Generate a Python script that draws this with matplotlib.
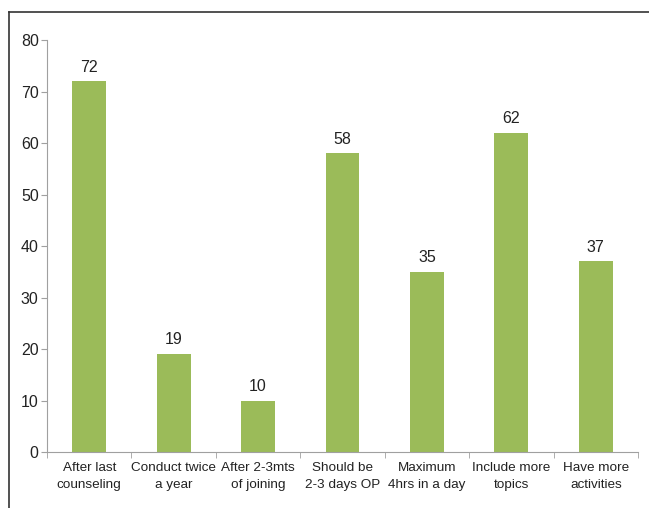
import matplotlib.pyplot as plt
from matplotlib.lines import Line2D

categories = ['After last\ncounseling', 'Conduct twice\na year', 'After 2-3mts\nof joining',
              'Should be\n2-3 days OP', 'Maximum\n4hrs in a day', 'Include more\ntopics',
              'Have more\nactivities']
values = [72, 19, 10, 58, 35, 62, 37]

plt.rcParams['font.family'] = ['Liberation Sans', 'DejaVu Sans']

fig = plt.figure(figsize=(6.49, 5.08), dpi=100)
ax = fig.add_axes([0.0724, 0.1102, 0.9106, 0.8110])

x = range(len(values))
bars = ax.bar(x, values, width=0.4, color='#9bbb59')
for b, v in zip(bars, values):
    ax.text(b.get_x() + b.get_width() / 2, v + 1.3, str(v), ha='center', va='bottom',
            fontsize=11.5, color='#222222')

ax.set_xlim(-0.5, len(values) - 0.5)
ax.set_ylim(0, 80)
ax.set_yticks(range(0, 81, 10))
ax.tick_params(axis='y', labelsize=11.5, colors='#a0a0a0', labelcolor='#222222', length=4, pad=2)
ax.set_xticks(x)
ax.set_xticklabels(categories, fontsize=9.7, color='#222222', linespacing=1.55)
ax.tick_params(axis='x', length=0, pad=7)
ax.set_xticks([i + 0.5 for i in range(-1, len(values))], minor=True)
ax.tick_params(axis='x', which='minor', length=4, color='#a0a0a0')

for s in ['top', 'right']:
    ax.spines[s].set_visible(False)
for s in ['left', 'bottom']:
    ax.spines[s].set_color('#a0a0a0')

fig.add_artist(Line2D([9 / 649, 9 / 649], [0, 1 - 12 / 508], color='#333333', lw=1.2))
fig.add_artist(Line2D([9 / 649, 1], [1 - 12 / 508, 1 - 12 / 508], color='#333333', lw=1.2))

fig.savefig('out.png', dpi=100)
